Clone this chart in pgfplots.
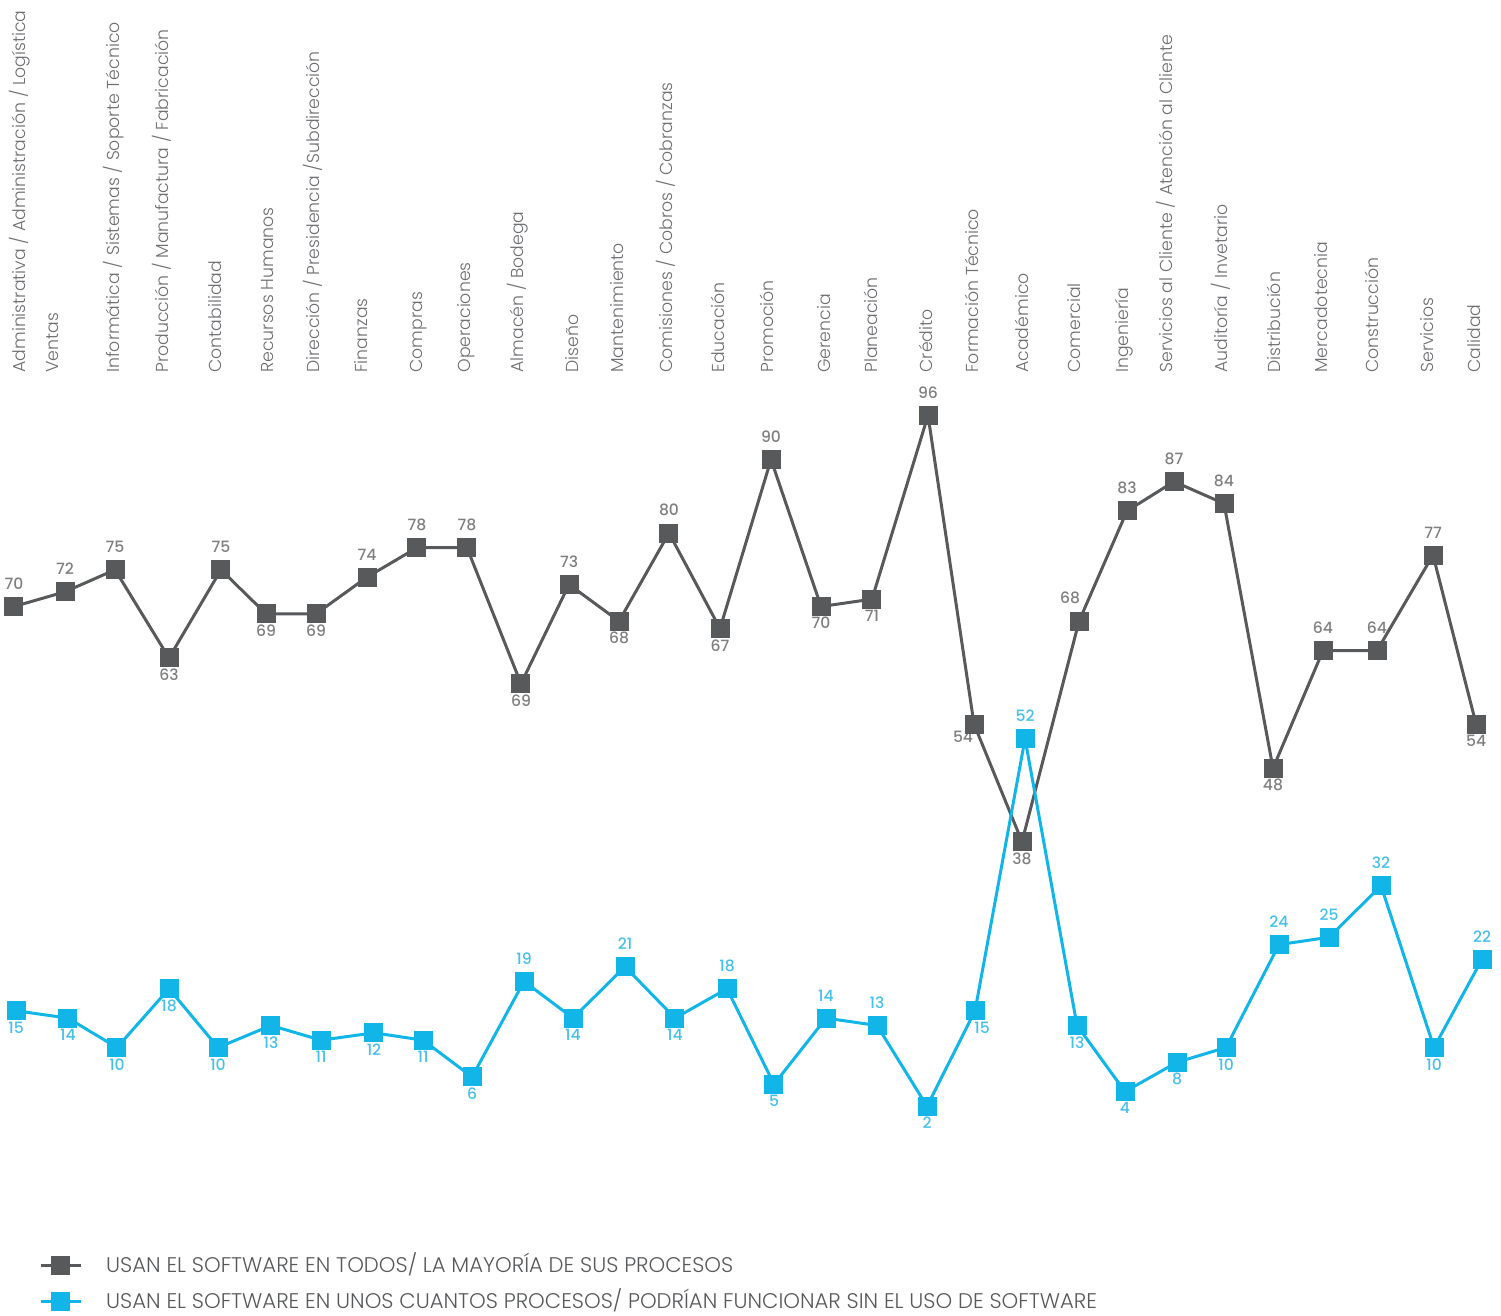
\documentclass[border=0pt]{standalone}
\usepackage{fontspec}
\IfFontExistsTF{Poppins Light}{\setmainfont{Poppins Light}}{\setmainfont{Poppins}}
\IfFontExistsTF{Poppins Medium}{\newfontfamily\medfont{Poppins Medium}}{\newfontfamily\medfont{Poppins}}
\usepackage{pgfplots}
\pgfplotsset{compat=1.18}
\usepackage{pgfplotstable}
\definecolor{cgray}{HTML}{58595B}
\definecolor{cblue}{HTML}{12B5E8}
\definecolor{lgray}{HTML}{7F7F80}
\definecolor{lblue}{HTML}{45C0EC}
\definecolor{tgray}{HTML}{6D6E71}

% line series (x = category position, y = value)
\pgfplotstableread{
x      y
0.000  70
1.012  72
2.004  75
3.075  63
4.106  75
4.999  69
5.991  69
7.003  74
7.994  78
8.986  78
10.057 59.5
11.010 73
12.002 68
12.993 80
14.005 67
15.017 90
16.009 70
17.020 71
18.131 96
19.044 54
19.996 38
21.127 68
22.079 83
23.011 87
24.003 84
24.975 48
25.967 64
27.038 64
28.149 77
29.003 54
}\graytab

\pgfplotstableread{
x      y
0.040  15
1.071  14
2.043  10
3.075  18
4.047  10
5.098  13
6.090  11
7.141  12
8.114  11
9.086  6
10.117 19
11.089 14
12.121 21
13.112 14
14.144 18
15.076 5
16.108 14
17.120 13
18.112 2
19.064 15
20.056 52
21.087 13
22.039 4
23.071 8
24.043 10
25.094 24
26.086 25
27.118 32
28.169 10
29.121 22
}\bluetab

% value labels, grouped by where they sit
\pgfplotstableread{
x      y    lab
0.000  70   70
1.012  72   72
2.004  75   75
4.106  75   75
7.003  74   74
7.994  78   78
8.986  78   78
11.010 73   73
12.993 80   80
15.017 90   90
18.131 96   96
22.079 83   83
23.011 87   87
24.003 84   84
25.967 64   64
27.038 64   64
28.149 77   77
}\grayabove
\pgfplotstableread{
x      y    lab
3.075  63   63
4.999  69   69
5.991  69   69
10.057 59.5 69
12.002 68   68
14.005 67   67
16.009 70   70
17.020 71   71
19.996 38   38
24.975 48   48
29.003 54   54
}\graybelow
\pgfplotstableread{
x      y    lab
19.044 54   54
}\graybelowleft
\pgfplotstableread{
x      y    lab
21.127 68   68
}\grayaboveleft
\pgfplotstableread{
x      y    lab
0.040  15   15
1.071  14   14
2.043  10   10
3.075  18   18
4.047  10   10
5.098  13   13
6.090  11   11
7.141  12   12
8.114  11   11
9.086  6    6
11.089 14   14
13.112 14   14
15.076 5    5
18.112 2    2
21.087 13   13
22.039 4    4
23.071 8    8
24.043 10   10
28.169 10   10
}\bluebelow
\pgfplotstableread{
x      y    lab
10.117 19   19
12.121 21   21
14.144 18   18
16.108 14   14
17.120 13   13
20.056 52   52
25.094 24   24
26.086 25   25
27.118 32   32
29.121 22   22
}\blueabove
\pgfplotstableread{
x      y    lab
19.064 15   15
}\bluebelowright

% #1 table, #2 node placement, #3 colour
\newcommand\vlabels[3]{%
  \addplot[only marks, mark=*, mark size=0.1pt,
    mark options={draw=#3, fill=#3}, forget plot,
    nodes near coords, point meta=explicit symbolic,
    every node near coord/.append style={inner sep=0pt,
      font=\medfont\fontsize{7.8}{9}\selectfont, text=#3, #2}]
    table[x=x, y=y, meta=lab] {#1};}

\begin{document}
\begin{tikzpicture}
\begin{axis}[
  width=750.5pt, height=657.5pt, scale only axis,
  xmin=-0.2777, xmax=29.498,
  ymin=-26.39, ymax=152.52,
  hide axis, clip=false,
  legend cell align=left,
  legend image code/.code={%
    \draw[mark repeat=2,mark phase=2,#1]
      plot coordinates {(0pt,0pt) (10pt,0pt) (20pt,0pt)};},
  legend style={at={(axis cs:0.500,-18.5)}, anchor=north west,
    draw=none, fill=none, inner sep=0pt, outer sep=0pt,
    font=\fontsize{10.6}{12}\selectfont, text=cgray,
    row sep=10.2pt,
    nodes={inner sep=0pt, text height=7.4pt, text depth=0pt},
    /tikz/every odd column/.append style={column sep=12pt}},
]
\vlabels{\grayabove}{anchor=south, yshift=8.3pt}{lgray}
\vlabels{\graybelow}{anchor=north, yshift=-5.25pt}{lgray}
\vlabels{\graybelowleft}{anchor=north, yshift=-3.5pt, xshift=-5.5pt}{lgray}
\vlabels{\grayaboveleft}{anchor=south, yshift=8.3pt, xshift=-4.5pt}{lgray}
\vlabels{\blueabove}{anchor=south, yshift=8.3pt}{lblue}
\vlabels{\bluebelow}{anchor=north, yshift=-5.25pt}{lblue}
\vlabels{\bluebelowright}{anchor=north, yshift=-5.25pt, xshift=3.5pt}{lblue}

\addplot[cgray, line width=1.5pt, mark=square*, mark size=4pt,
  mark options={solid, fill=cgray, draw=cgray}]
  table[x=x, y=y] {\graytab};
\addlegendentry{USAN EL SOFTWARE EN TODOS/ LA MAYORÍA DE SUS PROCESOS}
\addplot[cblue, line width=1.5pt, mark=square*, mark size=4pt,
  mark options={solid, fill=cblue, draw=cblue}]
  table[x=x, y=y] {\bluetab};
\addlegendentry{USAN EL SOFTWARE EN UNOS CUANTOS PROCESOS/ PODRÍAN FUNCIONAR SIN EL USO DE SOFTWARE}

\tikzset{catlab/.style={rotate=90, anchor=base west, inner sep=0pt,
  text=tgray, font=\fontsize{8.65}{10}\selectfont}}
\node[catlab] at (axis cs:0.232,101.77) {Administrativa / Administración / Logística};
\node[catlab] at (axis cs:0.873,101.77) {Ventas};
\node[catlab] at (axis cs:2.083,101.77) {Informática / Sistemas / Soporte Técnico};
\node[catlab] at (axis cs:3.055,101.77) {Producción / Manufactura / Fabricación};
\node[catlab] at (axis cs:4.126,101.77) {Contabilidad};
\node[catlab] at (axis cs:5.138,101.77) {Recursos Humanos};
\node[catlab] at (axis cs:6.070,101.77) {Dirección / Presidencia /Subdirección};
\node[catlab] at (axis cs:7.022,101.77) {Finanzas};
\node[catlab] at (axis cs:8.094,101.77) {Compras};
\node[catlab] at (axis cs:9.046,101.77) {Operaciones};
\node[catlab] at (axis cs:10.097,101.77) {Almacén / Bodega};
\node[catlab] at (axis cs:11.188,101.77) {Diseño};
\node[catlab] at (axis cs:12.081,101.77) {Mantenimiento};
\node[catlab] at (axis cs:13.053,101.77) {Comisiones / Cobros / Cobranzas};
\node[catlab] at (axis cs:14.104,101.77) {Educación};
\node[catlab] at (axis cs:15.057,101.77) {Promoción};
\node[catlab] at (axis cs:16.187,101.77) {Gerencia};
\node[catlab] at (axis cs:17.120,101.77) {Planeación};
\node[catlab] at (axis cs:18.211,101.77) {Crédito};
\node[catlab] at (axis cs:19.123,101.77) {Formación Técnico};
\node[catlab] at (axis cs:20.115,101.77) {Académico};
\node[catlab] at (axis cs:21.147,101.77) {Comercial};
\node[catlab] at (axis cs:22.099,101.77) {Ingeniería};
\node[catlab] at (axis cs:22.972,101.77) {Servicios al Cliente / Atención al Cliente};
\node[catlab] at (axis cs:24.063,101.77) {Auditoría / Invetario};
\node[catlab] at (axis cs:25.114,101.77) {Distribución};
\node[catlab] at (axis cs:26.046,101.77) {Mercadotecnia};
\node[catlab] at (axis cs:27.058,101.77) {Construcción};
\node[catlab] at (axis cs:28.149,101.77) {Servicios};
\node[catlab] at (axis cs:29.081,101.77) {Calidad};
\end{axis}
\pgfresetboundingbox
\path[use as bounding box] (current axis.south west) rectangle (current axis.north east);
\end{tikzpicture}
\end{document}
